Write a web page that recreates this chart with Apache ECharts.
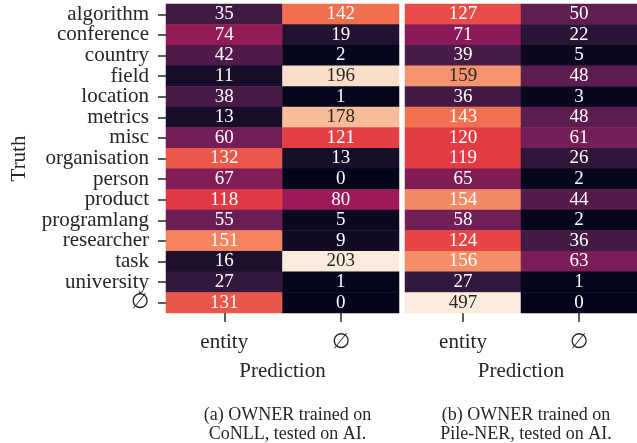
<!DOCTYPE html>
<html>
<head>
<meta charset="utf-8">
<title>OWNER confusion</title>
<script src="https://cdn.jsdelivr.net/npm/echarts@6/dist/echarts.min.js"></script>
<style>
  html, body { margin: 0; padding: 0; background: #fff; }
  #chart { width: 637px; height: 443px; }
</style>
</head>
<body>
<div id="chart"></div>
<script>
// rows (Truth) and columns (Prediction)
const truth = ['algorithm', 'conference', 'country', 'field', 'location', 'metrics', 'misc',
  'organisation', 'person', 'product', 'programlang', 'researcher', 'task', 'university', '∅']
const prediction = ['entity', '∅']

// (a) trained on CoNLL, tested on AI
const conllEntity = [35, 74, 42, 11, 38, 13, 60, 132, 67, 118, 55, 151, 16, 27, 131]
const conllNone = [142, 19, 2, 196, 1, 178, 121, 13, 0, 80, 5, 9, 203, 1, 0]
// (b) trained on Pile-NER, tested on AI
const pileEntity = [127, 71, 39, 159, 36, 143, 120, 119, 65, 154, 58, 124, 156, 27, 497]
const pileNone = [50, 22, 5, 48, 3, 48, 61, 26, 2, 44, 2, 36, 63, 1, 0]

const captions = ['(a) OWNER trained on\nCoNLL, tested on AI.', '(b) OWNER trained on\nPile-NER, tested on AI.']

// rocket colormap
const rocket = ['#03051a', '#35193e', '#701f57', '#ad1759', '#e13342', '#f37651', '#f6b48f', '#faebdd']
const colorMax = 203
const font = "'Liberation Serif', 'DejaVu Serif', serif"
const textColor = '#262626'

function cells (entity, none) {
  let out = []
  ;[entity, none].forEach((col, x) => {
    col.forEach((v, y) => {
      out.push({
        value: [x, y, v],
        label: { color: v >= 158 ? textColor : '#fff', fontFamily: font }
      })
    })
  })
  return out
}

const grids = [
  { left: 166, top: 4, width: 233, height: 309 },
  { left: 405, top: 4, width: 232, height: 309 }
]

function xAxis (i) {
  return {
    type: 'category',
    gridIndex: i,
    data: prediction,
    name: 'Prediction',
    nameLocation: 'middle',
    nameGap: 48,
    nameTextStyle: { fontFamily: font, fontSize: 21, color: textColor },
    axisLine: { show: false },
    axisTick: { show: true, alignWithLabel: true, length: 9, lineStyle: { color: textColor, width: 1.5 } },
    axisLabel: { interval: 0, fontFamily: font, fontSize: 21, color: textColor, margin: 19 },
    splitLine: { show: false }
  }
}

function yAxis (i) {
  return {
    type: 'category',
    gridIndex: i,
    data: truth,
    inverse: true,
    name: i === 0 ? 'Truth' : '',
    nameLocation: 'middle',
    nameRotate: 90,
    nameGap: 136,
    nameTextStyle: { fontFamily: font, fontSize: 21, color: textColor },
    axisLine: { show: false },
    axisTick: { show: i === 0, interval: 0, alignWithLabel: true, length: 8, lineStyle: { color: textColor, width: 1.5 } },
    axisLabel: { show: i === 0, interval: 0, fontFamily: font, fontSize: 21, color: textColor, margin: 17 },
    splitLine: { show: false }
  }
}

function series (i, data) {
  return {
    type: 'heatmap',
    xAxisIndex: i,
    yAxisIndex: i,
    data: data,
    label: { show: true, fontFamily: font, fontSize: 19 },
    itemStyle: { borderWidth: 0 },
    emphasis: { disabled: true }
  }
}

let chart = echarts.init(document.getElementById('chart'))
chart.setOption({
  animation: false,
  backgroundColor: '#fff',
  textStyle: { fontFamily: font },
  title: captions.map((t, i) => ({
    text: t,
    left: grids[i].left + grids[i].width / 2,
    top: 401,
    textAlign: 'center',
    textStyle: { fontFamily: font, fontSize: 18, fontWeight: 'normal', color: textColor, lineHeight: 19 }
  })),
  grid: grids,
  xAxis: [xAxis(0), xAxis(1)],
  yAxis: [yAxis(0), yAxis(1)],
  visualMap: [0, 1].map(i => ({
    type: 'continuous',
    show: false,
    seriesIndex: i,
    dimension: 2,
    min: 0,
    max: colorMax,
    inRange: { color: rocket }
  })),
  series: [
    series(0, cells(conllEntity, conllNone)),
    series(1, cells(pileEntity, pileNone))
  ]
})
</script>
</body>
</html>
